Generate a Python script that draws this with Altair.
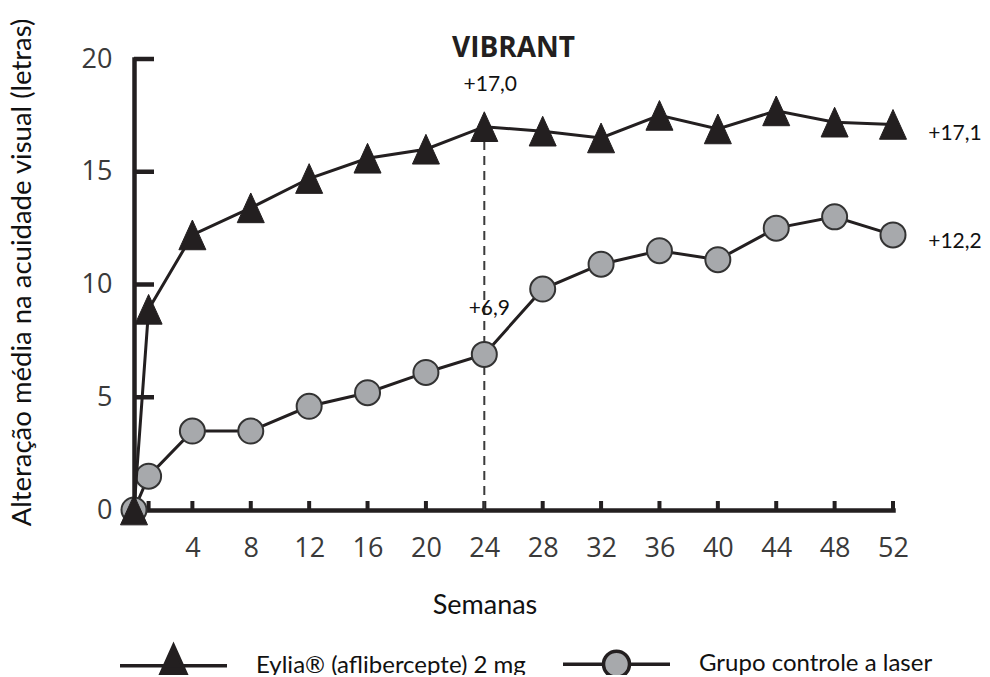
import altair as alt
import pandas as pd

# ---------------- data ----------------
weeks = [0, 1, 4, 8, 12, 16, 20, 24, 28, 32, 36, 40, 44, 48, 52]
eylia = [0.0, 8.9, 12.2, 13.4, 14.7, 15.6, 16.0, 17.0, 16.8, 16.5, 17.5, 16.9, 17.7, 17.2, 17.1]
laser = [0.0, 1.5, 3.5, 3.5, 4.6, 5.2, 6.1, 6.9, 9.8, 10.9, 11.5, 11.1, 12.5, 13.0, 12.2]
series_names = ["Eylia\u00ae (aflibercepte) 2 mg", "Grupo controle a laser"]

x_tick_labels = [4, 8, 12, 16, 20, 24, 28, 32, 36, 40, 44, 48, 52]
x_tick_marks = [1] + x_tick_labels
y_tick_labels = [0, 5, 10, 15, 20]

ann_labels = ["+17,0", "+6,9", "+17,1", "+12,2"]
ann_weeks = [24, 24, 52, 52]
ann_values = [17.0, 6.9, 17.1, 12.2]

title_text = "VIBRANT"
x_title = "Semanas"
y_title = "Altera\u00e7\u00e3o m\u00e9dia na acuidade visual (letras)"

# ---------------- layout / style ----------------
W, H = 759, 451
INK = "#231f20"
GREY = "#a7a9ac"
NUM_FONT = "Open Sans"
TXT_FONT = "Lato"

df_e = pd.DataFrame({"week": weeks, "value": eylia, "series": series_names[0]})
df_l = pd.DataFrame({"week": weeks, "value": laser, "series": series_names[1]})
df_all = pd.concat([df_e, df_l], ignore_index=True)

xs = alt.Scale(domain=[0, 52], nice=False, zero=False)
ys = alt.Scale(domain=[0, 20], nice=False, zero=False)

x_axis = alt.Axis(
    values=x_tick_labels, ticks=False, tickSize=0, grid=False,
    domain=True, domainWidth=4.5, domainColor=INK, domainCap="square",
    labelFont=NUM_FONT, labelFontSize=27, labelColor="#3a3a3a",
    labelPadding=25, labelFlush=False, labelOverlap=False,
    title=x_title, titleFont=TXT_FONT, titleFontSize=27, titleFontWeight="normal",
    titleColor="#111111", titleX=350.5, titleY=95, titleBaseline="middle", titleAlign="center",
)
y_axis = alt.Axis(
    values=y_tick_labels, ticks=False, tickSize=0, grid=False,
    domain=True, domainWidth=4.5, domainColor=INK, domainCap="square",
    labelFont=NUM_FONT, labelFontSize=27, labelColor="#3a3a3a",
    labelPadding=22, labelFlush=False, labelOverlap=False,
    title=y_title, titleFont=TXT_FONT, titleFontSize=27.5, titleFontWeight="normal",
    titleColor="#111111", titleX=-112, titleY=213, titleBaseline="middle", titleAlign="center",
    titleAngle=270,
)

X = alt.X("week:Q", scale=xs, axis=x_axis)
Y = alt.Y("value:Q", scale=ys, axis=y_axis)

# inward ticks
xt = alt.Chart(pd.DataFrame({"week": x_tick_marks})).mark_rule(color=INK, strokeWidth=4).encode(
    x=alt.X("week:Q", scale=xs, axis=x_axis), y=alt.value(H), y2=alt.value(H - 9)
)
yt = alt.Chart(pd.DataFrame({"value": y_tick_labels[1:]})).mark_rule(color=INK, strokeWidth=4.5).encode(
    y=alt.Y("value:Q", scale=ys, axis=y_axis), x=alt.value(0), x2=alt.value(20)
)

i24 = weeks.index(24)
dash = alt.Chart(pd.DataFrame({"week": [24], "lo": [0.0], "hi": [eylia[i24]]})).mark_rule(
    color="#3a3a3a", strokeWidth=2, strokeDash=[9, 6]
).encode(x=alt.X("week:Q", scale=xs, axis=x_axis), y=alt.Y("lo:Q", scale=ys, axis=y_axis), y2="hi:Q")

laser_line = alt.Chart(df_l).mark_line(color=INK, strokeWidth=3).encode(x=X, y=Y)
laser_pts = alt.Chart(df_l).mark_point(
    shape="circle", size=625, filled=True, fill=GREY, stroke="#333333", strokeWidth=2, opacity=1
).encode(x=X, y=Y)

TRI = "M0,-1.1L1,1.1L-1,1.1Z"
eylia_line = alt.Chart(df_e).mark_line(color=INK, strokeWidth=3).encode(x=X, y=Y)
eylia_pts = alt.Chart(df_e).mark_point(
    shape=TRI, size=729, filled=True, fill=INK, stroke=INK, strokeWidth=1, opacity=1
).encode(x=X, y=Y)

# annotations
ann_offsets = [(6, -42), (5, -45), (62, 10), (62, 7)]
ann_layers = []
for lab, wk, val, (dx, dy) in zip(ann_labels, ann_weeks, ann_values, ann_offsets):
    ann_layers.append(
        alt.Chart(pd.DataFrame({"week": [wk], "value": [val], "label": [lab]})).mark_text(
            font=TXT_FONT, fontSize=21, color="#111111", align="center", baseline="middle", dx=dx, dy=dy
        ).encode(x=X, y=Y, text="label:N")
    )

# title as a text mark centred over the plot
title_layer = alt.Chart(pd.DataFrame({"t": [title_text]})).mark_text(
    font=NUM_FONT, fontSize=28, fontWeight="bold", color=INK, align="center", baseline="alphabetic"
).encode(x=alt.value(W / 2), y=alt.value(-2), text="t:N")

# legend (line + marker symbols)
LEG_TRI = "M-1,0H1M0,-0.374L0.252,0.187L-0.252,0.187Z"
r = 0.243
LEG_CIR = (f"M-1,0H-{r}M{r},0H1M{r},0A{r},{r},0,1,1,-{r},0A{r},{r},0,1,1,{r},0Z")
leg = alt.Legend(
    orient="none", legendX=-16, legendY=549.5, direction="horizontal", title=None,
    symbolSize=11449, symbolStrokeWidth=3.5, labelFont=TXT_FONT, labelFontSize=24,
    labelColor="#111111", labelOffset=27, columnPadding=30, labelLimit=500, padding=0,
)
legend_layer = alt.Chart(df_all).transform_filter("false").mark_point(
    filled=True, stroke=INK, strokeWidth=3.5, opacity=1
).encode(
    x=X, y=Y,
    shape=alt.Shape("series:N", scale=alt.Scale(domain=series_names, range=[LEG_TRI, LEG_CIR]), legend=leg),
    fill=alt.Fill("series:N", scale=alt.Scale(domain=series_names, range=[INK, GREY]), legend=leg),
)

chart = alt.layer(
    xt, yt, dash, laser_line, laser_pts, eylia_line, eylia_pts, *ann_layers, title_layer, legend_layer
).properties(
    width=W, height=H,
    padding={"left": 126, "top": 51, "right": 89, "bottom": 165},
    autosize=alt.AutoSizeParams(type="none"),
).configure(background="white").configure_view(strokeWidth=0, stroke="transparent")

chart.save("out.html", embed_options={"renderer": "svg", "actions": False})
